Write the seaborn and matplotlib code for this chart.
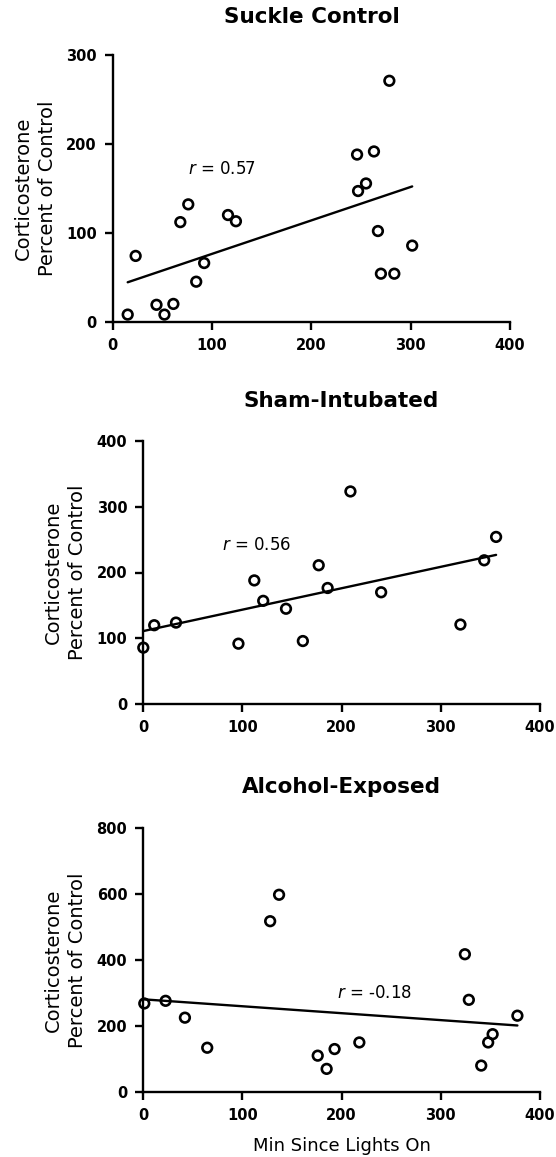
import matplotlib
matplotlib.use("Agg")
import matplotlib.pyplot as plt
import seaborn as sns
import numpy as np

# ---- data ----
titles = ["Suckle Control", "Sham-Intubated", "Alcohol-Exposed"]

suckle_x = [15, 23, 44, 52, 61, 68, 76, 84, 92, 116, 124, 246, 247, 255, 263, 267, 270, 278.5, 283.5, 301.5]
suckle_y = [8, 74, 19, 8, 20, 112, 132, 45, 66, 120, 113, 188, 147, 155.5, 191.5, 102, 54, 271, 54, 85.6]

sham_x = [0, 11, 33, 96, 112, 121, 144, 161, 177, 186, 209, 240, 320, 344, 356]
sham_y = [86, 120, 124, 92, 188, 157, 145, 96, 211, 176.5, 323, 170, 121, 218.5, 254]

alcohol_x = [1, 22.5, 42, 64.5, 128, 137, 176, 185, 193, 218, 324.5, 328.5, 341, 348, 352.5, 377.5]
alcohol_y = [268, 276, 225, 134, 517, 597, 110, 70, 130, 150, 417, 279, 80, 150, 175, 231]

r_labels = ["0.57", "0.56", "-0.18"]
r_pos = [(76, 172), (79, 241), (195, 300)]
y_max = [300, 400, 800]
y_ticks = [[0, 100, 200, 300], [0, 100, 200, 300, 400], [0, 200, 400, 600, 800]]
x_ticks = [0, 100, 200, 300, 400]

sns.set_theme(style="ticks")
plt.rcParams["font.family"] = ["DejaVu Sans"]
plt.rcParams["text.color"] = "black"
plt.rcParams["axes.labelcolor"] = "black"
plt.rcParams["xtick.color"] = "black"
plt.rcParams["ytick.color"] = "black"

W, H = 556, 1157
fig = plt.figure(figsize=(W / 100, H / 100), dpi=100)

# axes boxes in pixels: left, right, top, bottom
boxes = [(112.8, 510.0, 55.0, 321.7),
         (143.3, 539.7, 440.7, 704.3),
         (143.3, 539.7, 827.7, 1092.0)]
title_offsets = [37.7, 40.0, 40.4]

datasets = [(suckle_x, suckle_y), (sham_x, sham_y), (alcohol_x, alcohol_y)]

for i, ((xs, ys), (l, r, t, b)) in enumerate(zip(datasets, boxes)):
    ax = fig.add_axes([l / W, 1 - b / H, (r - l) / W, (b - t) / H])
    sns.regplot(x=np.array(xs), y=np.array(ys), ax=ax, ci=None, truncate=True,
                color="black",
                scatter_kws=dict(s=48, facecolors="none", edgecolors="black",
                                 linewidths=1.9, alpha=1, clip_on=False, zorder=3),
                line_kws=dict(linewidth=1.7, color="black", zorder=2))
    ax.set_xlim(0, 400)
    ax.set_ylim(0, y_max[i])
    ax.set_xticks(x_ticks)
    ax.set_yticks(y_ticks[i])
    sns.despine(ax=ax)
    for sp in ["left", "bottom"]:
        ax.spines[sp].set_linewidth(1.7)
        ax.spines[sp].set_color("black")
    ax.tick_params(axis="both", length=5.5, width=1.7, labelsize=10.5, color="black")
    ax.tick_params(axis="x", pad=6.0)
    ax.tick_params(axis="y", pad=6.0)
    for lab in ax.get_xticklabels() + ax.get_yticklabels():
        lab.set_fontweight("bold")
    ax.set_xlabel("")
    ax.set_ylabel("")
    ax_h = b - t
    ax.text(0.5, 1 + title_offsets[i] / ax_h, titles[i], transform=ax.transAxes,
            ha="center", va="center", fontsize=15.5, fontweight="bold")
    fig.text((l - 77.5) / W, 1 - (t + b) / 2 / H, "Corticosterone\nPercent of Control",
             rotation=90, ha="center", va="center", fontsize=14, linespacing=1.35)
    rx, ry = r_pos[i]
    ax.text(rx, ry, r"$\it{r}$ = " + r_labels[i], ha="left", va="center", fontsize=12)
    if i == 2:
        ax.set_xlabel("Min Since Lights On", fontsize=13)
        ax.xaxis.set_label_coords(0.5, -54 / ax_h)
        ax.xaxis.label.set_va("center")

fig.savefig("out.png", dpi=100)
